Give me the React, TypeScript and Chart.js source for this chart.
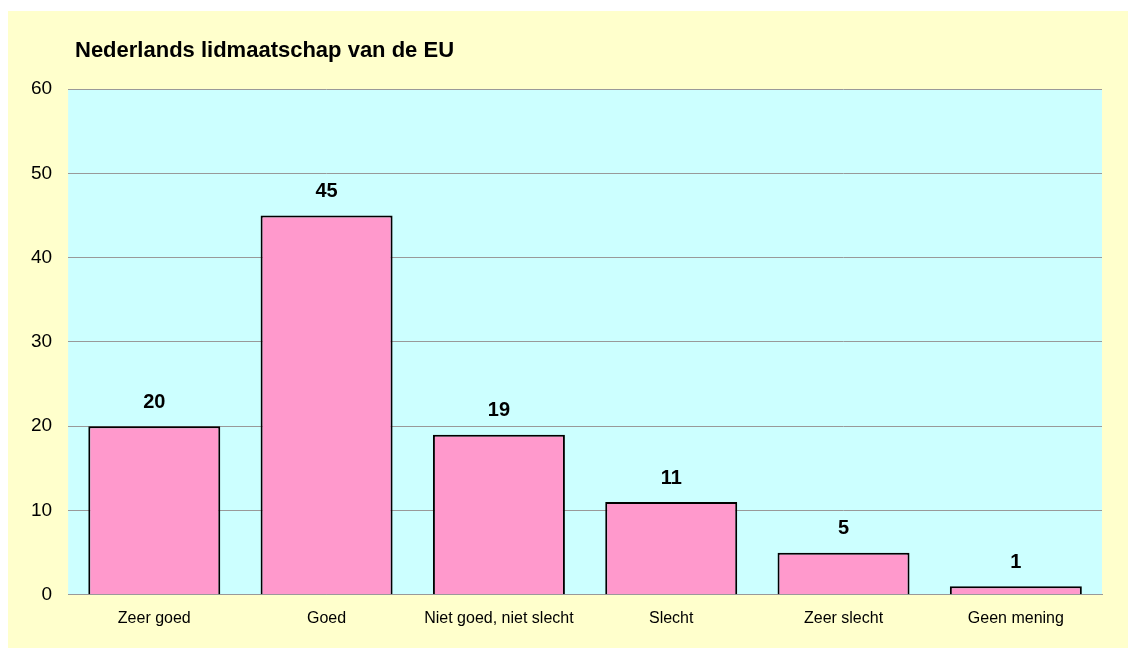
import React, { useEffect, useRef } from "react";
import { Chart, registerables } from "chart.js";

Chart.register(...registerables);

const categories = ["Zeer goed", "Goed", "Niet goed, niet slecht", "Slecht", "Zeer slecht", "Geen mening"];
const values = [20, 45, 19, 11, 5, 1];
const titleText = "Nederlands lidmaatschap van de EU";

const FONT = "'Liberation Sans', Arial, sans-serif";

const decorPlugin = {
  id: "decor",
  beforeDraw(chart: any) {
    const { ctx, chartArea } = chart;
    ctx.save();
    ctx.fillStyle = "#FFFFCC";
    ctx.fillRect(0, 0, chart.width, chart.height);
    ctx.fillStyle = "#CCFFFF";
    ctx.fillRect(chartArea.left, chartArea.top, chartArea.right - chartArea.left, chartArea.bottom - chartArea.top);
    ctx.restore();
  },
  afterDatasetsDraw(chart: any) {
    const { ctx } = chart;
    ctx.save();
    ctx.fillStyle = "#000";
    ctx.font = `bold 22px ${FONT}`;
    ctx.textAlign = "left";
    ctx.textBaseline = "middle";
    ctx.fillText(titleText, 67, 40);
    ctx.font = `bold 20px ${FONT}`;
    ctx.textAlign = "center";
    const meta = chart.getDatasetMeta(0);
    meta.data.forEach((bar: any, i: number) => {
      ctx.fillText(String(values[i]), bar.x, bar.y - 24);
    });
    ctx.restore();
  },
};

export default function App() {
  const ref = useRef<HTMLCanvasElement | null>(null);
  useEffect(() => {
    if (!ref.current) return;
    const chart = new Chart(ref.current, {
      type: "bar",
      data: {
        labels: categories,
        datasets: [
          {
            data: values,
            backgroundColor: "#FF99CC",
            borderColor: "#000000",
            borderWidth: 2,
            categoryPercentage: 0.766,
            barPercentage: 1,
          },
        ],
      },
      options: {
        animation: false,
        responsive: false,
        maintainAspectRatio: false,
        layout: { padding: { top: 78, right: 26, left: 7, bottom: 6 } },
        plugins: { legend: { display: false }, tooltip: { enabled: false }, title: { display: false } },
        scales: {
          x: {
            grid: { display: false, drawTicks: false },
            border: { display: true, color: "#999999", width: 1 },
            ticks: { color: "#000", font: { family: FONT, size: 16 }, padding: 14, maxRotation: 0, autoSkip: false },
          },
          y: {
            min: 0,
            max: 60,
            grid: { color: "#999999", lineWidth: 1, drawTicks: false },
            border: { display: false },
            ticks: { stepSize: 10, color: "#000", font: { family: FONT, size: 19 }, padding: 16 },
          },
        },
      },
      plugins: [decorPlugin],
    });
    return () => chart.destroy();
  }, []);
  return (
    <div style={{ position: "fixed", left: 8, top: 11, width: 1120, height: 637 }}>
      <canvas ref={ref} width={1120} height={637} style={{ display: "block" }} />
    </div>
  );
}
